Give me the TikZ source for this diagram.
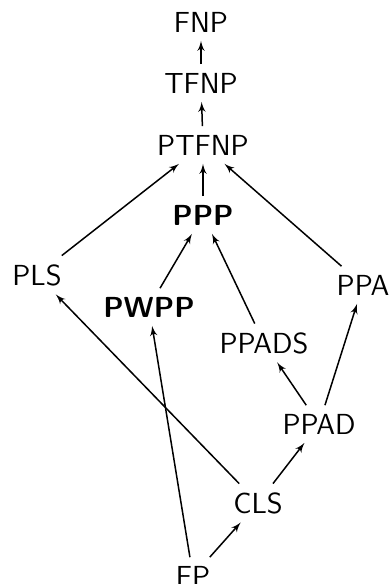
\documentclass[tikz,border=0pt]{standalone}
\usepackage{tikz}
\usetikzlibrary{shapes,arrows}
\tikzstyle{cls} = [font=\sffamily\fontsize{14.5}{17}\selectfont, inner sep=4pt]
\tikzstyle{bcls} = [cls, font=\sffamily\bfseries\fontsize{14.5}{17}\selectfont]

\begin{document}
\begin{tikzpicture}[x=0.5pt, y=-0.5pt, >=latex', line width=0.75pt]
    \useasboundingbox (0,0) rectangle (389,584);
    % We start by placing the classes
    \node [cls] (fnp) at (201,22) {FNP};
    \node [cls] (tfnp) at (201,83) {TFNP};
    \node [cls] (ptfnp) at (203,145) {PTFNP};
    \node [bcls] (ppp) at (203,215) {PPP};
    \node [cls] (pls) at (37,275) {PLS};
    \node [bcls] (pwpp) at (149,307) {PWPP};
    \node [cls] (ppa) at (363,285) {PPA};
    \node [cls] (ppads) at (264,343) {PPADS};
    \node [cls] (ppad) at (319,424) {PPAD};
    \node [cls] (clsn) at (258,503) {CLS};
    \node [cls] (fp) at (193,576) {FP};

    % Once the nodes are placed, connecting them is easy.
    \draw [->] (tfnp) -- (fnp);
    \draw [->] (ptfnp) -- (tfnp);
    \draw [->] (ppp) -- (ptfnp);
    \draw [->] (pls) -- (ptfnp);
    \draw [->] (ppa) -- (ptfnp);
    \draw [->] (pwpp) -- (ppp);
    \draw [->] (ppads) -- (ppp);
    \draw [->] (ppad) -- (ppads);
    \draw [->] (ppad) -- (ppa);
    \draw [->] (clsn) -- (ppad);
    \draw [->] (clsn) -- (pls);
    \draw [->] (fp) -- (clsn);
    \draw [->] (fp) -- (pwpp);
\end{tikzpicture}
\end{document}
